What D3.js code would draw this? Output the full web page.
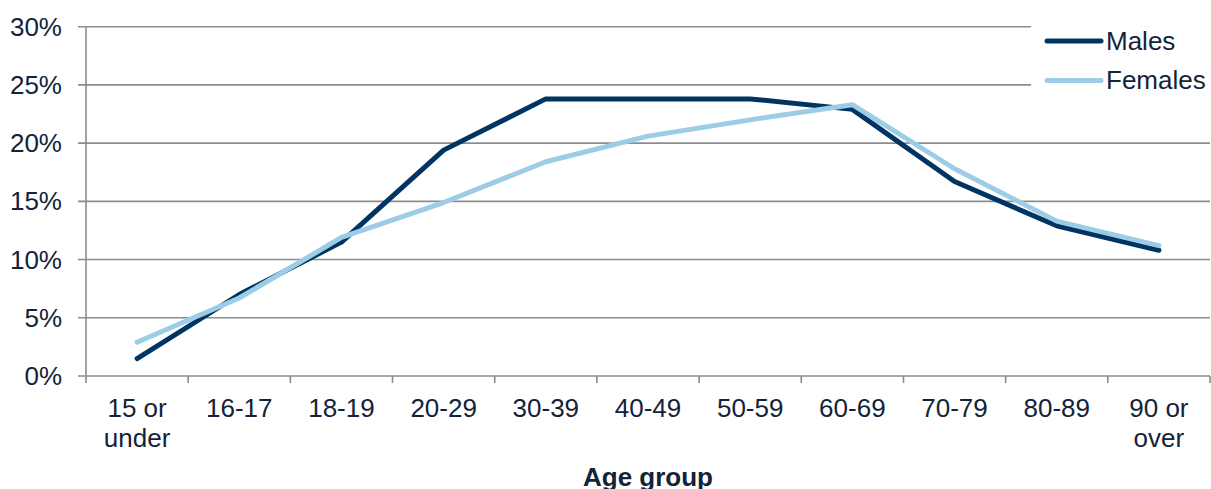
<!DOCTYPE html>
<html>
<head>
<meta charset="utf-8">
<script src="https://cdnjs.cloudflare.com/ajax/libs/d3/7.8.5/d3.min.js"></script>
<style>
  html, body { margin: 0; padding: 0; background: #fff; }
  svg { display: block; font-family: "Liberation Sans", Arial, sans-serif; }
</style>
</head>
<body>
<svg id="chart" width="1211" height="489"></svg>
<script>
// Age groups (two-line labels split on "|")
const ageGroups = ["15 or|under", "16-17", "18-19", "20-29", "30-39", "40-49", "50-59", "60-69", "70-79", "80-89", "90 or|over"];
// Share of each sex in each age group (%)
const males   = [1.5, 7.0, 11.5, 19.4, 23.8, 23.8, 23.8, 22.9, 16.7, 12.9, 10.8];
const females = [2.9, 6.7, 11.9, 14.9, 18.4, 20.6, 22.0, 23.3, 17.8, 13.3, 11.2];
const yTicks  = [0, 5, 10, 15, 20, 25, 30];
const seriesNames = ["Males", "Females"];

const colors = { Males: "#003462", Females: "#9dcde6" };
const textColor = "#132339";
const gridColor = "#8c8c8c";
const fontSize = 26;

const svg = d3.select("#chart");
const plot = { left: 86, right: 1210, top: 26.7, bottom: 376 };

const x = d3.scaleBand().domain(ageGroups).range([plot.left, plot.right]).padding(0);
const y = d3.scaleLinear().domain([0, 30]).range([plot.bottom, plot.top]);

// Horizontal gridlines with left ticks
const grid = svg.append("g");
grid.selectAll("line").data(yTicks).join("line")
  .attr("x1", plot.left - 8).attr("x2", plot.right)
  .attr("y1", d => y(d)).attr("y2", d => y(d))
  .attr("stroke", gridColor).attr("stroke-width", 1.6);

// Y axis line
svg.append("line")
  .attr("x1", plot.left).attr("x2", plot.left)
  .attr("y1", plot.top).attr("y2", plot.bottom + 7)
  .attr("stroke", gridColor).attr("stroke-width", 1.6);

// X axis tick marks at band boundaries
const boundaries = ageGroups.map(d => x(d)).concat([x(ageGroups[ageGroups.length - 1]) + x.bandwidth()]);
svg.append("g").selectAll("line").data(boundaries.slice(1)).join("line")
  .attr("x1", d => d).attr("x2", d => d)
  .attr("y1", plot.bottom).attr("y2", plot.bottom + 7)
  .attr("stroke", gridColor).attr("stroke-width", 1.6);

// Y tick labels
svg.append("g").selectAll("text").data(yTicks).join("text")
  .attr("x", 62).attr("y", d => y(d) + 9)
  .attr("text-anchor", "end")
  .attr("font-size", fontSize).attr("fill", textColor)
  .text(d => d + "%");

// X tick labels
const xl = svg.append("g").selectAll("text").data(ageGroups).join("text")
  .attr("x", d => x(d) + x.bandwidth() / 2)
  .attr("y", 417)
  .attr("text-anchor", "middle")
  .attr("font-size", fontSize).attr("fill", textColor);
xl.each(function(d) {
  const parts = d.split("|");
  d3.select(this).selectAll("tspan").data(parts).join("tspan")
    .attr("x", x(d) + x.bandwidth() / 2)
    .attr("dy", (p, i) => i === 0 ? 0 : 30)
    .text(p => p);
});

// Axis title
svg.append("text")
  .attr("x", 648).attr("y", 486)
  .attr("text-anchor", "middle")
  .attr("font-size", fontSize).attr("font-weight", "bold").attr("fill", textColor)
  .text("Age group");

// Lines
const line = d3.line()
  .x((d, i) => x(ageGroups[i]) + x.bandwidth() / 2)
  .y(d => y(d));

const seriesData = { Males: males, Females: females };
seriesNames.forEach(name => {
  svg.append("path")
    .datum(seriesData[name])
    .attr("d", line)
    .attr("fill", "none")
    .attr("stroke", colors[name])
    .attr("stroke-width", 5)
    .attr("stroke-linejoin", "round")
    .attr("stroke-linecap", "round");
});

// Legend
const legend = svg.append("g");
legend.append("rect")
  .attr("x", 1031).attr("y", 10).attr("width", 180).attr("height", 108)
  .attr("fill", "#fff");
const legendY = { Males: 41, Females: 80.5 };
seriesNames.forEach(name => {
  legend.append("line")
    .attr("x1", 1047).attr("x2", 1101)
    .attr("y1", legendY[name]).attr("y2", legendY[name])
    .attr("stroke", colors[name]).attr("stroke-width", 5)
    .attr("stroke-linecap", "round");
  legend.append("text")
    .attr("x", 1106).attr("y", legendY[name] + 8.5)
    .attr("font-size", fontSize).attr("fill", textColor)
    .text(name);
});
</script>
</body>
</html>
